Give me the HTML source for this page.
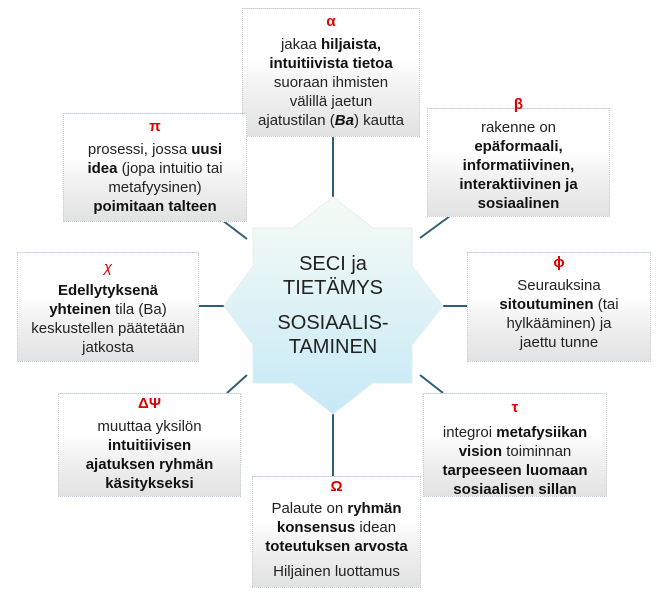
<!DOCTYPE html>
<html><head><meta charset="utf-8"><style>
body{margin:0;width:667px;height:600px;background:#fff;position:relative;overflow:hidden;font-family:"Liberation Sans",sans-serif;}
.b{position:absolute;box-sizing:border-box;border:1px dotted #c5ccd3;background:linear-gradient(#fff 0%,#fff 40%,#f3f3f3 60%,#e2e2e2 100%);text-align:center;font-size:15px;line-height:19px;color:#222;}
.g{color:#e00000;font-weight:bold;font-size:15px;display:block;margin-bottom:4px;}
b{color:#111}
svg{position:absolute;left:0;top:0}
.c{position:absolute;text-align:center;font-size:20px;line-height:24px;color:#222;width:200px;left:233px}
</style></head><body>
<svg width="667" height="600">
<defs><linearGradient id="sg" x1="0" y1="0" x2="0" y2="1"><stop offset="0" stop-color="#f6fbf4"/><stop offset="1" stop-color="#c6e9f6"/></linearGradient></defs>
<g stroke="#2f5f74" stroke-width="2">
<line x1="333" y1="137" x2="333" y2="197"/>
<line x1="333" y1="413" x2="333" y2="476"/>
<line x1="199" y1="306" x2="225" y2="306"/>
<line x1="442" y1="306" x2="467" y2="306"/>
<line x1="222" y1="220" x2="247" y2="239"/>
<line x1="420" y1="238" x2="450" y2="216"/>
<line x1="227" y1="393" x2="247" y2="375"/>
<line x1="420" y1="375" x2="443" y2="393"/>
</g>
<polygon fill="url(#sg)" stroke="#e4eef0" stroke-width="1" points="333,197 373,228 412,228 412,266 443,306 412,345 412,383 373,383 333,414 293,383 253,383 253,345 224,306 253,266 253,228 293,228"/>
</svg>
<div class="c" style="top:252px">SECI ja<br>TIETÄMYS</div>
<div class="c" style="top:311px">SOSIAALIS-<br>TAMINEN</div>

<div class="b" style="left:242px;top:8px;width:178px;height:129px;padding-top:3px"><span class="g">α</span>jakaa <b>hiljaista,<br>intuitiivista tietoa</b><br>suoraan ihmisten<br>välillä jaetun<br>ajatustilan (<b><i>Ba</i></b>) kautta</div>
<div class="b" style="left:427px;top:108px;width:183px;height:109px;padding-top:9px;overflow:visible"><span class="g" style="position:absolute;top:-14px;left:0;right:0">β</span>rakenne on<br><b>epäformaali,<br>informatiivinen,<br>interaktiivinen ja<br>sosiaalinen</b></div>
<div class="b" style="left:63px;top:113px;width:184px;height:109px;padding-top:3px"><span class="g">π</span>prosessi, jossa <b>uusi<br>idea</b> (jopa intuitio tai<br>metafyysinen)<br><b>poimitaan talteen</b></div>
<div class="b" style="left:17px;top:252px;width:182px;height:110px;padding-top:5px"><span class="g" style="font-style:italic;font-weight:normal">χ</span><b>Edellytyksenä<br>yhteinen</b> tila (Ba)<br>keskustellen päätetään<br>jatkosta</div>
<div class="b" style="left:467px;top:252px;width:184px;height:110px;padding-top:0px"><span class="g">ϕ</span>Seurauksina<br><b>sitoutuminen</b> (tai<br>hylkääminen) ja<br>jaettu tunne</div>
<div class="b" style="left:58px;top:393px;width:183px;height:104px;padding-top:0px"><span class="g">ΔΨ</span>muuttaa yksilön<br><b>intuitiivisen<br>ajatuksen ryhmän<br>käsitykseksi</b></div>
<div class="b" style="left:423px;top:393px;width:184px;height:104px;padding-top:4px"><span class="g" style="margin-bottom:6px">τ</span>integroi <b>metafysiikan<br>vision</b> toiminnan<br><b>tarpeeseen luomaan<br>sosiaalisen sillan</b></div>
<div class="b" style="left:252px;top:476px;width:169px;height:112px;padding-top:0px"><span class="g" style="margin-bottom:3px">Ω</span>Palaute on <b>ryhmän<br>konsensus</b> idean<br><b>toteutuksen arvosta</b><div style="margin-top:6px">Hiljainen luottamus</div></div>
</body></html>
